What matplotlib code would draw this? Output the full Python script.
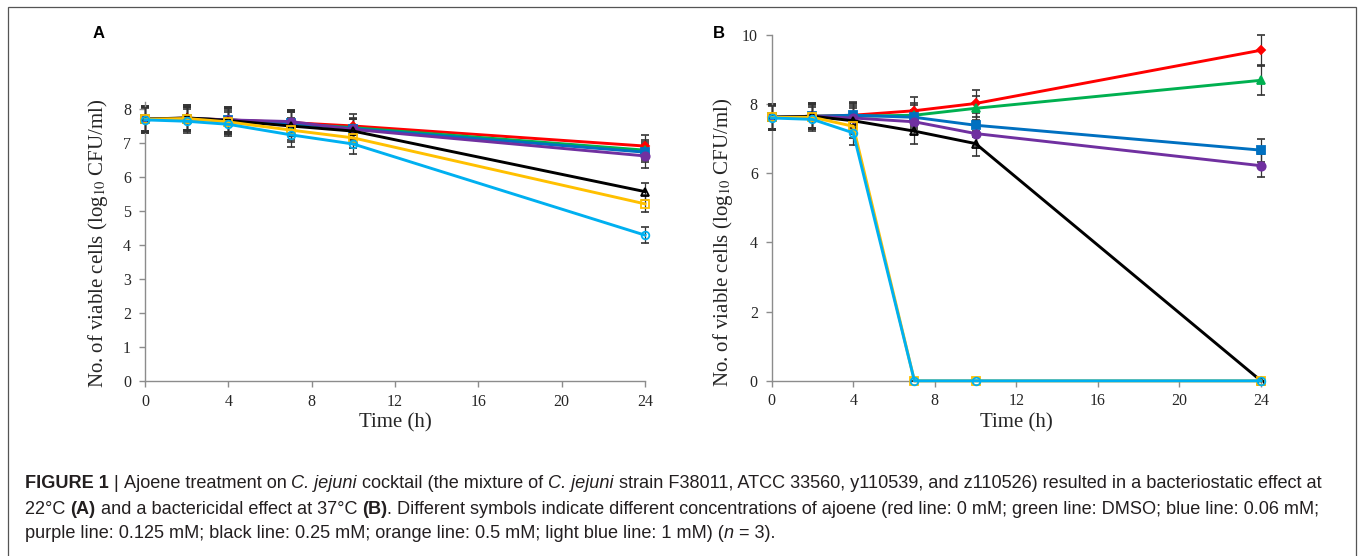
import matplotlib
matplotlib.use("Agg")
import matplotlib.pyplot as plt
from matplotlib.patches import Rectangle
from matplotlib.font_manager import FontProperties

# ---------------- data ----------------
time_h = [0, 2, 4, 7, 10, 24]
series_names = ["0 mM", "DMSO", "0.06 mM", "0.125 mM", "0.25 mM", "0.5 mM", "1 mM"]

# Panel A (22 °C)
a_red = [7.70, 7.73, 7.68, 7.60, 7.50, 6.91]
a_green = [7.70, 7.72, 7.68, 7.57, 7.45, 6.79]
a_blue = [7.70, 7.72, 7.68, 7.58, 7.42, 6.73]
a_purple = [7.70, 7.72, 7.68, 7.63, 7.40, 6.62]
a_black = [7.70, 7.74, 7.66, 7.50, 7.35, 5.57]
a_orange = [7.70, 7.72, 7.62, 7.38, 7.15, 5.21]
a_lblue = [7.68, 7.64, 7.55, 7.24, 6.97, 4.29]
a_err_red = [0.40, 0.38, 0.38, 0.38, 0.35, 0.33]
a_err_green = [0.35, 0.35, 0.35, 0.35, 0.30, 0.30]
a_err_blue = [0.35, 0.35, 0.35, 0.35, 0.30, 0.30]
a_err_purple = [0.35, 0.35, 0.35, 0.35, 0.30, 0.36]
a_err_black = [0.40, 0.38, 0.40, 0.40, 0.35, 0.25]
a_err_orange = [0.35, 0.35, 0.35, 0.35, 0.30, 0.25]
a_err_lblue = [0.35, 0.35, 0.35, 0.35, 0.30, 0.23]

# Panel B (37 °C)
b_red = [7.62, 7.65, 7.68, 7.81, 8.02, 9.56]
b_green = [7.62, 7.65, 7.65, 7.68, 7.88, 8.69]
b_blue = [7.62, 7.65, 7.68, 7.62, 7.39, 6.67]
b_purple = [7.62, 7.65, 7.60, 7.49, 7.15, 6.22]
b_black = [7.62, 7.65, 7.52, 7.22, 6.86, 0.00]
b_orange = [7.62, 7.62, 7.36, 0.00, 0.00, 0.00]
b_lblue = [7.60, 7.56, 7.17, 0.00, 0.00, 0.00]
b_err_red = [0.38, 0.38, 0.38, 0.40, 0.38, 0.45]
b_err_green = [0.35, 0.35, 0.35, 0.35, 0.35, 0.43]
b_err_blue = [0.35, 0.35, 0.35, 0.35, 0.35, 0.33]
b_err_purple = [0.35, 0.35, 0.35, 0.35, 0.35, 0.33]
b_err_black = [0.38, 0.38, 0.38, 0.36, 0.35, 0.00]
b_err_orange = [0.35, 0.35, 0.35, 0.00, 0.00, 0.00]
b_err_lblue = [0.35, 0.35, 0.35, 0.00, 0.00, 0.00]

x_ticks = [0, 4, 8, 12, 16, 20, 24]
a_y_ticks = [0, 1, 2, 3, 4, 5, 6, 7, 8]
b_y_ticks = [0, 2, 4, 6, 8, 10]

# ---------------- style ----------------
colors = ["#ff0000", "#00b050", "#0070c0", "#7030a0", "#000000", "#ffc000", "#00b0f0"]
markers = ["D", "^", "s", "o", "^", "s", "o"]
filled = [True, True, True, True, False, False, False]
msizes = [4.5, 5.5, 5.5, 6, 5.5, 5.5, 5.5]

plt.rcParams["font.family"] = ["Liberation Serif", "DejaVu Serif"]
plt.rcParams["mathtext.fontset"] = "stix"

W, H = 1360, 556
fig = plt.figure(figsize=(W / 100, H / 100), dpi=100)

# outer frame
fig.add_artist(Rectangle((8 / W, -0.01), (1356 - 8) / W, (H - 7) / H + 0.01,
                         transform=fig.transFigure, fill=False,
                         edgecolor="#555555", linewidth=0.9))


def px_axes(x0, x1, y_bottom, y_top):
    return fig.add_axes([x0 / W, (H - y_bottom) / H, (x1 - x0) / W, (y_bottom - y_top) / H])


axA = px_axes(145, 645, 381, 381 - 8.2 * 34)
axB = px_axes(771.7, 1261, 380.8, 35)


def style_axes(ax, yticks, ylim):
    ax.set_xlim(0, 24)
    ax.set_ylim(*ylim)
    for s in ["top", "right"]:
        ax.spines[s].set_visible(False)
    for s in ["left", "bottom"]:
        ax.spines[s].set_color("#8c8c8c")
        ax.spines[s].set_linewidth(1.0)
    ax.set_xticks(x_ticks)
    ax.set_yticks(yticks)
    ax.tick_params(axis="both", direction="out", length=4, width=1.0, color="#8c8c8c",
                   labelsize=11.5, labelcolor="#262626", pad=5)
    ax.tick_params(axis="y", pad=6)
    ax.patch.set_visible(False)


style_axes(axA, a_y_ticks, (0, 8.2))
style_axes(axB, b_y_ticks, (0, 10))


def draw(ax, ys, errs):
    for i, (y, e) in enumerate(zip(ys, errs)):
        ax.errorbar(time_h, y, yerr=e, fmt="none", ecolor="#333333", elinewidth=0.9,
                    capsize=3.2, capthick=1.2, zorder=2 + i * 0.1, clip_on=False)
    for i, y in enumerate(ys):
        ax.plot(time_h, y, color=colors[i], linewidth=2.1, marker=markers[i],
                markersize=msizes[i],
                markerfacecolor=colors[i] if filled[i] else "none",
                markeredgecolor=colors[i], markeredgewidth=1.3,
                zorder=3 + i * 0.1, clip_on=False, label=series_names[i])


draw(axA, [a_red, a_green, a_blue, a_purple, a_black, a_orange, a_lblue],
     [a_err_red, a_err_green, a_err_blue, a_err_purple, a_err_black, a_err_orange, a_err_lblue])
draw(axB, [b_red, b_green, b_blue, b_purple, b_black, b_orange, b_lblue],
     [b_err_red, b_err_green, b_err_blue, b_err_purple, b_err_black, b_err_orange, b_err_lblue])

ylab = r"No. of viable cells (log$_{10}$ CFU/ml)"
for ax, ylx, yly, xly in [(axA, -0.094, 0.495, -0.151), (axB, -0.0995, 0.40, -0.122)]:
    ax.set_xlabel("Time (h)", fontsize=15, color="#262626")
    ax.set_ylabel(ylab, fontsize=15, color="#262626")
    ax.xaxis.label.set_verticalalignment("center")
    ax.yaxis.label.set_verticalalignment("center")
    ax.xaxis.set_label_coords(0.5, xly)
    ax.yaxis.set_label_coords(ylx, yly)

# panel letters
fig.text(99 / W, 1 - 33 / H, "A", family="Liberation Sans", fontweight="bold",
         fontsize=12, ha="center", va="center")
fig.text(719 / W, 1 - 33 / H, "B", family="Liberation Sans", fontweight="bold",
         fontsize=12, ha="center", va="center")

# ---------------- caption ----------------
cap_family = ["Liberation Sans"]
cap_size = 13.1
cap_lines = [
    [("FIGURE 1", "bold", "normal"), (" | ", "normal", "normal"),
     ("Ajoene treatment on ", "normal", "normal"), ("C. jejuni", "normal", "italic"),
     (" cocktail (the mixture of ", "normal", "normal"), ("C. jejuni", "normal", "italic"),
     (" strain F38011, ATCC 33560, y110539, and z110526) resulted in a bacteriostatic effect at",
      "normal", "normal")],
    [("22°C ", "normal", "normal"), ("(A)", "bold", "normal"),
     (" and a bactericidal effect at 37°C ", "normal", "normal"), ("(B)", "bold", "normal"),
     (". Different symbols indicate different concentrations of ajoene (red line: 0 mM; green line: DMSO; blue line: 0.06 mM;",
      "normal", "normal")],
    [("purple line: 0.125 mM; black line: 0.25 mM; orange line: 0.5 mM; light blue line: 1 mM) (",
      "normal", "normal"), ("n", "normal", "italic"), (" = 3).", "normal", "normal")],
]
cap_y = [484, 509, 534]

renderer = fig.canvas.get_renderer()


def seg_width(s, weight, style):
    fp = FontProperties(family=cap_family, size=cap_size, weight=weight, style=style)
    t1 = fig.text(0, 0, "|" + s + "|", fontproperties=fp)
    t2 = fig.text(0, 0, "||", fontproperties=fp)
    w = t1.get_window_extent(renderer).width - t2.get_window_extent(renderer).width
    t1.remove()
    t2.remove()
    return w


for line, yy in zip(cap_lines, cap_y):
    x = 25.0
    for s, weight, style in line:
        fig.text(x / W, 1 - yy / H, s, family=cap_family, fontsize=cap_size,
                 fontweight=weight, fontstyle=style, color="#231f20",
                 ha="left", va="center")
        x += seg_width(s, weight, style)

fig.savefig("out.png", dpi=100)
